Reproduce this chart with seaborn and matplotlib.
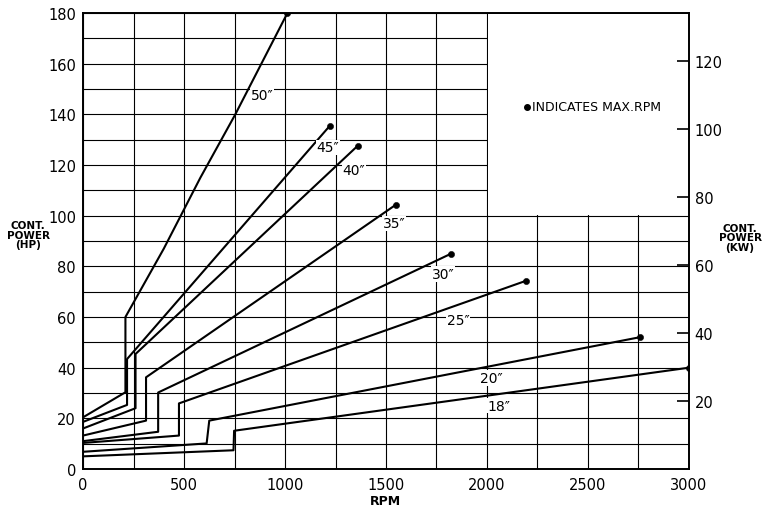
import numpy as np
import pandas as pd
import matplotlib
matplotlib.use("Agg")
import matplotlib.pyplot as plt
import seaborn as sns

# curve data: rpm vs continuous power (HP)
sizes = ["50\u2033", "45\u2033", "40\u2033", "35\u2033", "30\u2033", "25\u2033", "20\u2033", "18\u2033"]
rpm_50 = [0, 210, 210, 400, 581, 754, 1012]
hp_50 = [20.4, 30.3, 60.0, 87.0, 115.0, 140.0, 180.0]
rpm_45 = [0, 218, 218, 1222]
hp_45 = [18.6, 25.3, 43.4, 135.5]
rpm_40 = [0, 260, 260, 1360]
hp_40 = [16.0, 24.0, 45.4, 127.6]
rpm_35 = [0, 312, 312, 1550]
hp_35 = [13.2, 19.1, 36.2, 104.4]
rpm_30 = [0, 372, 372, 1822]
hp_30 = [11.0, 14.7, 30.2, 85.0]
rpm_25 = [0, 475, 475, 2193]
hp_25 = [10.3, 13.2, 25.9, 74.3]
rpm_20 = [0, 612, 625, 2755]
hp_20 = [6.8, 10.1, 19.1, 52.0]
rpm_18 = [0, 745, 748, 3000]
hp_18 = [5.0, 7.4, 15.1, 40.0]

all_rpm = [rpm_50, rpm_45, rpm_40, rpm_35, rpm_30, rpm_25, rpm_20, rpm_18]
all_hp = [hp_50, hp_45, hp_40, hp_35, hp_30, hp_25, hp_20, hp_18]

# where the size labels sit (rpm, hp)
label_rpm = [830, 1155, 1285, 1485, 1725, 1800, 1965, 2000]
label_hp = [147.5, 127, 118, 97, 77, 59, 36, 25]

HP_TO_KW = 0.7457

rows = []
for s, r, h in zip(sizes, all_rpm, all_hp):
    for i, (x, y) in enumerate(zip(r, h)):
        rows.append({"size": s, "rpm": x, "hp": y, "order": i})
df = pd.DataFrame(rows)
ends = df.loc[df.groupby("size")["order"].idxmax()]

sns.set_theme(style="white")
plt.rcParams["font.family"] = ["DejaVu Sans"]
plt.rcParams["text.color"] = "black"

fig = plt.figure(figsize=(7.63, 5.10), dpi=100)
ax = fig.add_axes([0.1088, 0.0784, 0.7942, 0.8941])

sns.lineplot(data=df, x="rpm", y="hp", units="size", estimator=None, sort=False,
             color="black", linewidth=1.5, ax=ax, zorder=3)
sns.scatterplot(data=ends, x="rpm", y="hp", color="black", s=20, edgecolor="black",
                ax=ax, zorder=4)

ax.set_xlim(0, 3000)
ax.set_ylim(0, 180)
ax.set_xticks(np.arange(0, 3001, 500))
ax.set_xticks(np.arange(0, 3001, 250), minor=True)
ax.set_yticks(np.arange(0, 181, 20))
ax.set_yticks(np.arange(0, 181, 10), minor=True)
ax.grid(True, which="both", color="black", linewidth=0.8)
ax.set_axisbelow(True)
ax.tick_params(which="both", length=0, labelsize=10.5, colors="black")
ax.tick_params(axis="y", pad=5)
ax.tick_params(axis="x", pad=6)
ax.set_xlabel("")
ax.set_ylabel("")
for sp in ax.spines.values():
    sp.set_color("black")
    sp.set_linewidth(1.4)

# blank box for the legend note, upper right
ax.fill_between([2004, 2999], 100.4, 179.7, color="white", zorder=1.5, linewidth=0)

for s, x, y in zip(sizes, label_rpm, label_hp):
    ax.text(x, y, s, fontsize=10, ha="left", va="center", color="black",
            bbox=dict(facecolor="white", edgecolor="none", pad=0.5), zorder=5)

ax.scatter([2198], [143], s=16, color="black", zorder=5)
ax.text(2222, 143, "INDICATES MAX.RPM", fontsize=9, ha="left", va="center",
        color="black", zorder=5)

ax2 = ax.twinx()
ax2.set_ylim(0, 180 * HP_TO_KW)
ax2.set_yticks(np.arange(20, 121, 20))
ax2.tick_params(axis="y", direction="in", length=9, width=1.2, labelsize=10.5,
                colors="black", pad=4)
ax2.grid(False)
for sp in ax2.spines.values():
    sp.set_visible(False)

fig.text(0.037, 0.538, "CONT.\nPOWER\n(HP)", fontsize=7.5, fontweight="bold",
         ha="center", va="center", linespacing=0.95, color="black")
fig.text(0.970, 0.533, "CONT.\nPOWER\n(KW)", fontsize=7.5, fontweight="bold",
         ha="center", va="center", linespacing=0.95, color="black")
fig.text(0.505, 0.016, "RPM", fontsize=9, fontweight="bold", ha="center",
         va="center", color="black")

fig.savefig("out.png", dpi=100)
